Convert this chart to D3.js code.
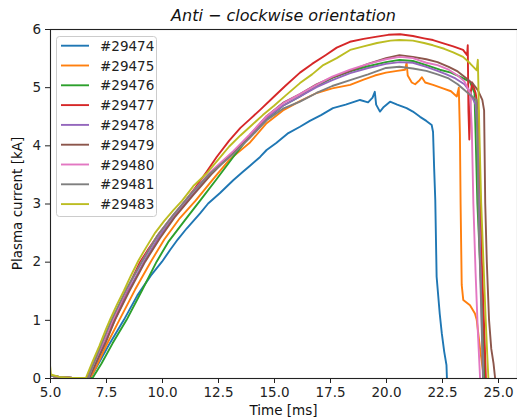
<!DOCTYPE html>
<html><head><meta charset="utf-8">
<script src="https://cdn.jsdelivr.net/npm/d3@7"></script>
<style>
body{margin:0;background:#fff;}
svg{display:block;font-family:"DejaVu Sans",sans-serif;}
</style></head>
<body><svg id="chart" width="517" height="420"></svg>
<script>
const title = "Anti \u2212 clockwise orientation";
const xLabel = "Time [ms]";
const yLabel = "Plasma current [kA]";
const xTicks = [5.0, 7.5, 10.0, 12.5, 15.0, 17.5, 20.0, 22.5, 25.0];
const yTicks = [0, 1, 2, 3, 4, 5, 6];
const shots = ["#29474","#29475","#29476","#29477","#29478","#29479","#29480","#29481","#29483"];
const colors = ["#1f77b4","#ff7f0e","#2ca02c","#d62728","#9467bd","#8c564b","#e377c2","#7f7f7f","#bcbd22"];

const s29474 = [[5.0,0.04],[5.4,0.02],[6.0,0.0],[6.8,0.0],[7.1,0.2],[7.6,0.55],[8.3,1.0],[8.9,1.42],[9.5,1.76],[10.0,2.0],[10.36,2.2],[10.7,2.38],[11.1,2.57],[11.7,2.83],[12.06,3.0],[12.59,3.18],[13.18,3.4],[13.6,3.54],[13.93,3.65],[14.38,3.8],[14.67,3.92],[15.1,4.04],[15.6,4.2],[16.16,4.32],[16.6,4.42],[17.1,4.52],[17.63,4.64],[18.2,4.7],[18.84,4.78],[19.2,4.74],[19.4,4.82],[19.5,4.92],[19.56,4.7],[19.73,4.58],[19.9,4.66],[20.18,4.75],[20.5,4.7],[20.92,4.64],[21.2,4.58],[21.52,4.49],[21.8,4.42],[22.04,4.35],[22.1,4.23],[22.15,3.6],[22.2,3.06],[22.26,1.74],[22.4,1.1],[22.49,0.77],[22.6,0.45],[22.7,0.22],[22.72,0.0]];
const s29475 = [[5.0,0.04],[5.4,0.02],[6.0,0.0],[6.8,0.0],[7.1,0.22],[7.5,0.55],[8.1,1.0],[8.8,1.52],[9.5,2.0],[10.1,2.38],[10.8,2.75],[11.5,3.05],[12.2,3.38],[13.0,3.75],[13.93,4.05],[14.67,4.38],[15.4,4.6],[16.16,4.76],[16.9,4.9],[17.6,4.98],[18.4,5.04],[19.0,5.13],[19.5,5.2],[20.0,5.25],[20.5,5.28],[20.85,5.3],[20.92,5.42],[20.97,5.2],[21.15,5.08],[21.3,5.05],[21.5,5.12],[21.6,5.17],[21.75,5.08],[22.1,5.04],[22.54,4.98],[22.9,4.93],[23.16,4.84],[23.25,4.99],[23.3,4.2],[23.33,3.0],[23.38,1.6],[23.45,1.34],[23.75,1.25],[23.97,1.11],[24.05,1.0],[24.2,0.5],[24.37,0.0]];
const s29476 = [[5.0,0.04],[5.4,0.02],[6.0,0.0],[6.9,0.0],[7.3,0.25],[7.8,0.6],[8.42,1.0],[9.1,1.5],[9.76,2.0],[10.3,2.35],[11.0,2.7],[11.7,3.05],[12.4,3.4],[13.18,3.8],[13.9,4.15],[14.67,4.45],[15.4,4.68],[16.16,4.84],[16.9,5.02],[17.6,5.16],[18.4,5.27],[19.2,5.36],[20.0,5.43],[20.6,5.47],[21.2,5.45],[21.8,5.38],[22.4,5.3],[22.9,5.25],[23.3,5.18],[23.75,5.09],[23.95,4.9],[24.0,4.2],[24.08,3.0],[24.22,1.8],[24.32,1.0],[24.38,0.4],[24.42,0.0]];
const s29477 = [[5.0,0.04],[5.4,0.02],[6.0,0.0],[6.65,0.0],[6.95,0.25],[7.3,0.55],[7.6,0.82],[7.85,1.0],[8.2,1.3],[8.6,1.65],[9.0,1.98],[9.4,2.22],[9.9,2.5],[10.4,2.75],[10.95,3.0],[11.5,3.28],[12.0,3.55],[12.44,3.8],[13.0,4.08],[13.5,4.3],[13.93,4.45],[14.38,4.61],[14.9,4.8],[15.5,5.02],[16.16,5.25],[16.7,5.4],[17.3,5.55],[17.8,5.68],[18.39,5.78],[19.0,5.83],[19.6,5.87],[20.1,5.9],[20.63,5.91],[21.2,5.88],[21.7,5.84],[22.1,5.81],[22.6,5.75],[23.0,5.7],[23.44,5.64],[23.62,5.55],[23.65,5.72],[23.68,4.6],[23.72,4.1],[23.78,4.9],[23.85,5.08],[24.0,4.9],[24.12,4.6],[24.18,3.5],[24.28,2.0],[24.38,0.9],[24.46,0.0]];
const s29478 = [[5.0,0.04],[5.4,0.02],[6.0,0.0],[6.75,0.0],[7.1,0.3],[7.5,0.65],[7.9,1.0],[8.5,1.5],[9.2,2.0],[9.9,2.45],[10.6,2.8],[11.4,3.17],[12.2,3.52],[13.18,3.88],[13.9,4.15],[14.67,4.47],[15.4,4.68],[16.16,4.84],[16.9,5.0],[17.6,5.12],[18.4,5.24],[19.2,5.33],[20.0,5.4],[20.6,5.43],[21.2,5.42],[21.8,5.35],[22.3,5.28],[22.7,5.22],[23.1,5.15],[23.5,5.05],[23.7,4.95],[24.0,4.7],[24.09,4.2],[24.15,3.0],[24.22,1.8],[24.28,0.9],[24.34,0.0]];
const s29479 = [[5.0,0.04],[5.4,0.02],[6.0,0.0],[6.75,0.0],[7.05,0.25],[7.5,0.62],[7.9,1.0],[8.55,1.5],[9.25,2.0],[9.9,2.4],[10.6,2.78],[11.4,3.15],[12.2,3.5],[13.18,3.88],[13.9,4.17],[14.67,4.5],[15.4,4.73],[16.16,4.88],[16.9,5.05],[17.6,5.17],[18.4,5.28],[19.2,5.4],[20.0,5.5],[20.6,5.55],[21.2,5.52],[21.8,5.48],[22.3,5.43],[22.8,5.35],[23.2,5.27],[23.6,5.15],[23.9,5.05],[24.1,4.95],[24.3,4.78],[24.38,4.6],[24.43,3.0],[24.5,2.0],[24.6,1.0],[24.7,0.5],[24.8,0.25],[24.87,0.0]];
const s29480 = [[5.0,0.04],[5.4,0.02],[6.0,0.0],[6.7,0.0],[7.0,0.3],[7.4,0.65],[7.8,1.0],[8.4,1.5],[9.1,2.0],[9.8,2.45],[10.5,2.8],[11.3,3.17],[12.1,3.52],[13.18,3.9],[13.9,4.18],[14.67,4.5],[15.4,4.72],[16.16,4.88],[16.9,5.04],[17.6,5.18],[18.4,5.3],[19.2,5.4],[20.0,5.48],[20.6,5.52],[21.2,5.5],[21.8,5.42],[22.3,5.38],[22.8,5.3],[23.2,5.2],[23.5,5.1],[23.75,4.9],[23.83,4.3],[23.9,3.0],[24.0,1.8],[24.1,0.8],[24.2,0.0]];
const s29481 = [[5.0,0.04],[5.4,0.02],[6.0,0.0],[6.7,0.0],[7.0,0.3],[7.4,0.68],[7.75,1.0],[8.4,1.52],[9.1,2.0],[9.8,2.45],[10.5,2.8],[11.3,3.17],[12.1,3.5],[13.18,3.85],[13.9,4.12],[14.67,4.43],[15.4,4.63],[16.16,4.75],[16.9,4.9],[17.6,5.02],[18.4,5.12],[19.2,5.22],[20.0,5.33],[20.6,5.35],[21.2,5.32],[21.8,5.28],[22.3,5.22],[22.8,5.15],[23.2,5.05],[23.5,4.95],[23.8,4.85],[24.05,4.78],[24.08,4.0],[24.15,2.5],[24.25,1.2],[24.33,0.0]];
const s29483 = [[5.0,0.22],[5.04,0.06],[5.4,0.02],[6.0,0.0],[6.6,0.0],[6.9,0.28],[7.2,0.55],[7.5,0.84],[7.7,1.02],[8.0,1.27],[8.3,1.5],[8.6,1.75],[8.95,2.02],[9.3,2.25],[9.7,2.5],[10.1,2.7],[10.5,2.88],[10.9,3.05],[11.4,3.3],[12.0,3.52],[12.5,3.75],[13.0,3.98],[13.5,4.17],[13.93,4.32],[14.5,4.52],[15.0,4.68],[15.5,4.85],[16.16,5.07],[16.7,5.22],[17.2,5.38],[17.8,5.5],[18.4,5.64],[19.0,5.7],[19.6,5.76],[20.2,5.8],[20.6,5.81],[21.2,5.8],[21.7,5.76],[22.1,5.72],[22.6,5.66],[23.0,5.6],[23.44,5.52],[23.75,5.41],[24.05,5.29],[24.1,5.47],[24.17,4.2],[24.25,3.0],[24.35,2.0],[24.45,1.0],[24.52,0.4],[24.57,0.0]];

const seriesValues = [s29474,s29475,s29476,s29477,s29478,s29479,s29480,s29481,s29483];

const m = {left:50, right:517, top:29, bottom:378};
const svg = d3.select("#chart");
const x = d3.scaleLinear().domain([5, 5 + (m.right - m.left) / 22.4]).range([m.left, m.right]);
const y = d3.scaleLinear().domain([0, 6]).range([m.bottom, m.top]);

svg.append("defs").append("clipPath").attr("id","clip")
  .append("rect").attr("x",m.left).attr("y",m.top).attr("width",m.right-m.left).attr("height",m.bottom-m.top);

const line = d3.line().x(d=>x(d[0])).y(d=>y(d[1]));
const g = svg.append("g").attr("clip-path","url(#clip)");
seriesValues.forEach((s,i)=>{
  g.append("path").attr("d", line(s)).attr("fill","none")
   .attr("stroke", colors[i]).attr("stroke-width",1.9).attr("stroke-linejoin","round").attr("stroke-linecap","square");
});

const xAxis = d3.axisBottom(x).tickValues(xTicks).tickFormat(d3.format(".1f")).tickSize(5).tickPadding(4);
const yAxis = d3.axisLeft(y).tickValues(yTicks).tickFormat(d3.format("d")).tickSize(5).tickPadding(4);
const gx = svg.append("g").attr("transform",`translate(0,${m.bottom})`).call(xAxis);
const gy = svg.append("g").attr("transform",`translate(${m.left},0)`).call(yAxis);
[gx,gy].forEach(a=>{
  a.select(".domain").remove();
  a.selectAll("text").attr("font-size",13.5).attr("font-family","DejaVu Sans").attr("fill","#222");
  a.selectAll("line").attr("stroke","#222").attr("stroke-width",1);
});
svg.append("rect").attr("x",m.left+0.5).attr("y",m.top+0.5).attr("width",m.right-m.left).attr("height",m.bottom-m.top)
  .attr("fill","none").attr("stroke","#222").attr("stroke-width",1.1);

svg.append("text").attr("x",(m.left+m.right)/2).attr("y",21).attr("text-anchor","middle")
  .attr("font-size",16).attr("font-style","italic").attr("fill","#111").text(title);
svg.append("text").attr("x",(m.left+m.right)/2).attr("y",415).attr("text-anchor","middle")
  .attr("font-size",13.5).attr("fill","#111").text(xLabel);
svg.append("text").attr("transform",`translate(22,${(m.top+m.bottom)/2}) rotate(-90)`).attr("text-anchor","middle")
  .attr("font-size",13.5).attr("fill","#111").text(yLabel);

const lg = svg.append("g");
lg.append("rect").attr("x",56.5).attr("y",36.5).attr("width",100).attr("height",180).attr("rx",3)
  .attr("fill","#fff").attr("fill-opacity",0.8).attr("stroke","#ccc").attr("stroke-width",1);
shots.forEach((s,i)=>{
  const cy = 45.7 + i*19.8;
  lg.append("line").attr("x1",61).attr("x2",89).attr("y1",cy).attr("y2",cy).attr("stroke",colors[i]).attr("stroke-width",1.9);
  lg.append("text").attr("x",100).attr("y",cy+5).attr("font-size",13.5).attr("fill","#222").text(s);
});
</script></body></html>
